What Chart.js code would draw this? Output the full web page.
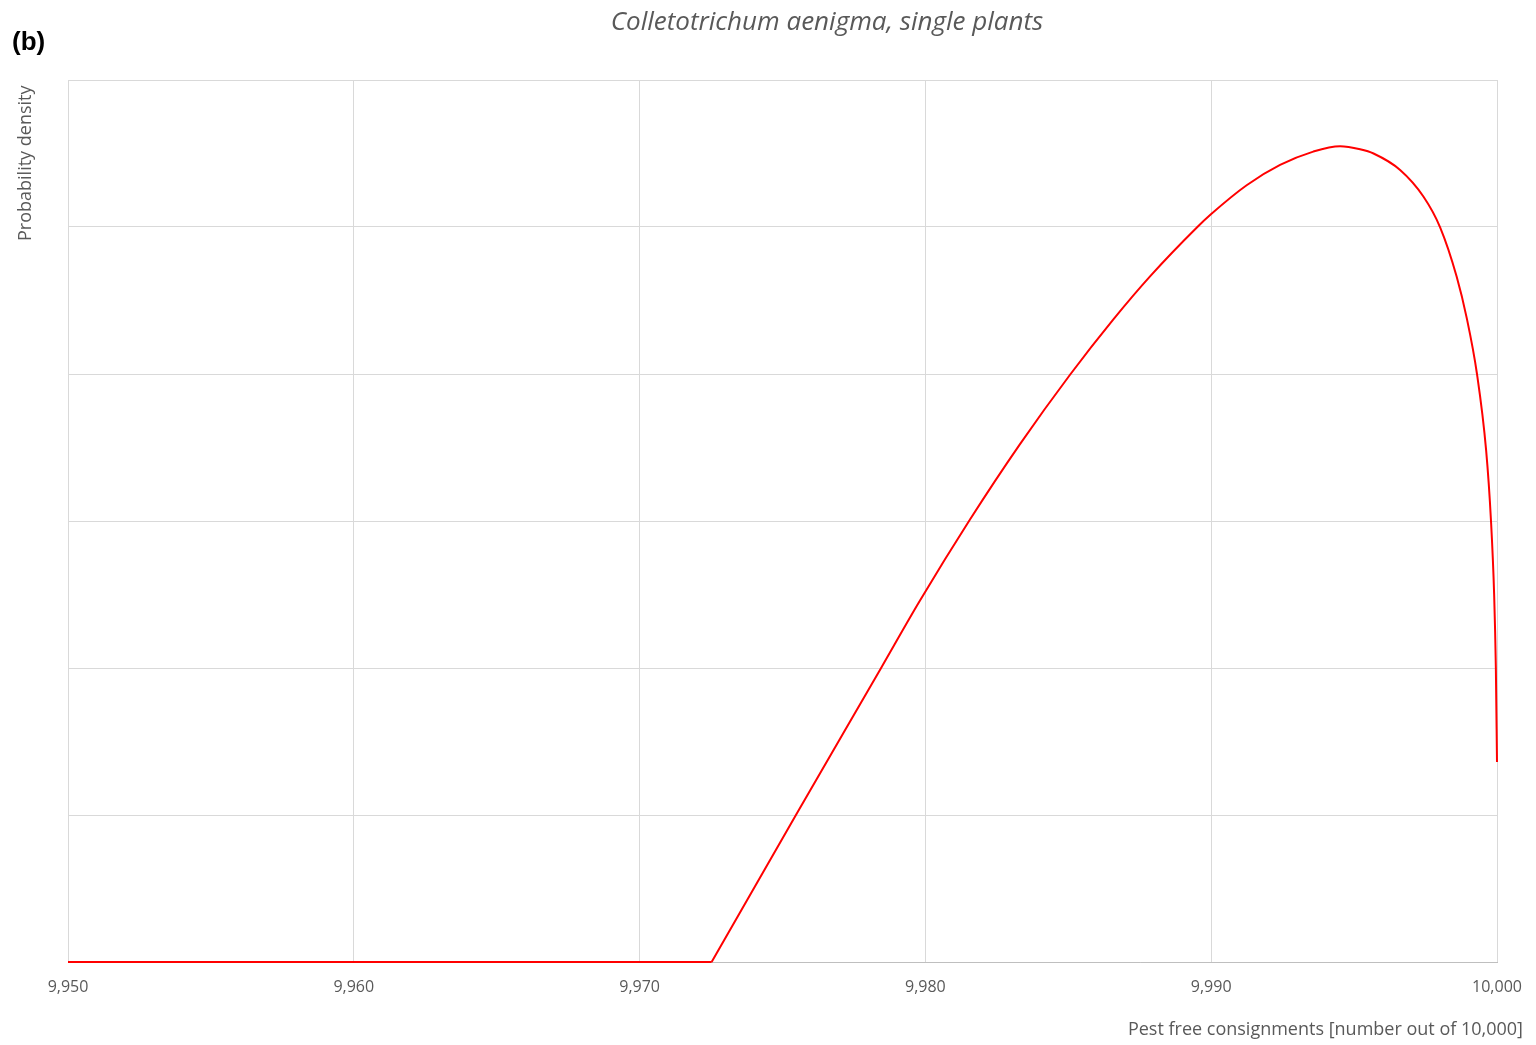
<!DOCTYPE html>
<html>
<head>
<meta charset="utf-8">
<script src="https://cdn.jsdelivr.net/npm/chart.js@4.4.1/dist/chart.umd.min.js"></script>
<style>
	html, body { margin: 0; padding: 0; background: #fff; }
	#wrap { position: relative; width: 1536px; height: 1045px; }
	#chart { position: absolute; left: 0; top: 0; }
	.label { position: absolute; white-space: nowrap; color: #595959; font-family: 'Open Sans', sans-serif; }
	#panel { left: 12px; top: 26px; font: bold 26px 'Liberation Sans', Arial, sans-serif; color: #000; }
	#title { left: 0; width: 1654px; top: 2px; text-align: center; font-style: italic; font-size: 26px; }
	#ytitle { left: 12px; top: 241px; font-size: 18px; transform-origin: 0 0; transform: rotate(-90deg); }
	#xtitle { right: 13px; top: 1016px; font-size: 18px; }
</style>
</head>
<body>
<div id="wrap">
	<canvas id="chart" width="1536" height="1045"></canvas>
	<div class="label" id="panel">(b)</div>
	<div class="label" id="title">Colletotrichum aenigma, single plants</div>
	<div class="label" id="ytitle">Probability density</div>
	<div class="label" id="xtitle">Pest free consignments [number out of 10,000]</div>
</div>
<script>
// Values (y in gridline units, the axis has no labels)
// Flat part before the density starts
const flatX = [9950, 9972.52];
const flatY = [0, 0];

// Density curve
const curveX = [
	9972.52, 9975.47, 9978.45, 9979.79, 9981.56, 9983.31, 9985.06,
	9986.57, 9987.86, 9989.49, 9990.0, 9991.24, 9992.41, 9993.57,
	9994.51, 9995.21, 9995.68, 9996.61, 9997.43, 9998.01, 9998.59,
	9998.94, 9999.30, 9999.62, 9999.79, 9999.90, 9999.96, 10000
];
const curveY = [
	0, 1.0, 2.0, 2.452, 3.01, 3.523, 3.995,
	4.37, 4.664, 4.995, 5.088, 5.284, 5.422, 5.513,
	5.55, 5.529, 5.50, 5.388, 5.206, 4.998, 4.662,
	4.382, 4.0, 3.48, 3.0, 2.5, 2.0, 1.36
];
const xTicks = [9950, 9960, 9970, 9980, 9990, 10000];

const COLORS = {
	line: '#ff0000',
	grid: '#d9d9d9',
	axis: '#bfbfbf',
	text: '#595959'
};

const toPoints = (xs, ys) => xs.map((x, i) => ({ x, y: ys[i] }));

const lineStyle = {
	borderColor: COLORS.line,
	borderWidth: 2,
	pointRadius: 0,
	fill: false,
	clip: false
};

new Chart(document.getElementById('chart').getContext('2d'), {
	type: 'line',
	data: {
		datasets: [
			{ ...lineStyle, data: toPoints(flatX, flatY), tension: 0 },
			{ ...lineStyle, data: toPoints(curveX, curveY), cubicInterpolationMode: 'monotone' }
		]
	},
	options: {
		responsive: false,
		animation: false,
		layout: { padding: { left: 68, right: 39, top: 80, bottom: 43 } },
		plugins: { legend: { display: false }, tooltip: { enabled: false } },
		scales: {
			x: {
				type: 'linear',
				min: 9950,
				max: 10000,
				afterFit: (scale) => { scale.height = 40; },
				afterBuildTicks: (scale) => { scale.ticks = xTicks.map(v => ({ value: v })); },
				// invisible tick marks push the labels down without widening the axis
				grid: { color: COLORS.grid, drawTicks: true, tickLength: 15, tickColor: 'rgba(0,0,0,0)' },
				border: { color: COLORS.axis },
				ticks: {
					color: COLORS.text,
					padding: 1,
					maxRotation: 0,
					autoSkip: false,
					font: { family: "'Open Sans', sans-serif", size: 16 },
					callback: (v) => v.toLocaleString('en-US')
				}
			},
			y: {
				min: 0,
				max: 6,
				afterFit: (scale) => { scale.width = 0; },
				grid: { color: COLORS.grid, drawTicks: false },
				border: { color: COLORS.grid },
				ticks: { display: false, stepSize: 1 }
			}
		}
	}
});
</script>
</body>
</html>
